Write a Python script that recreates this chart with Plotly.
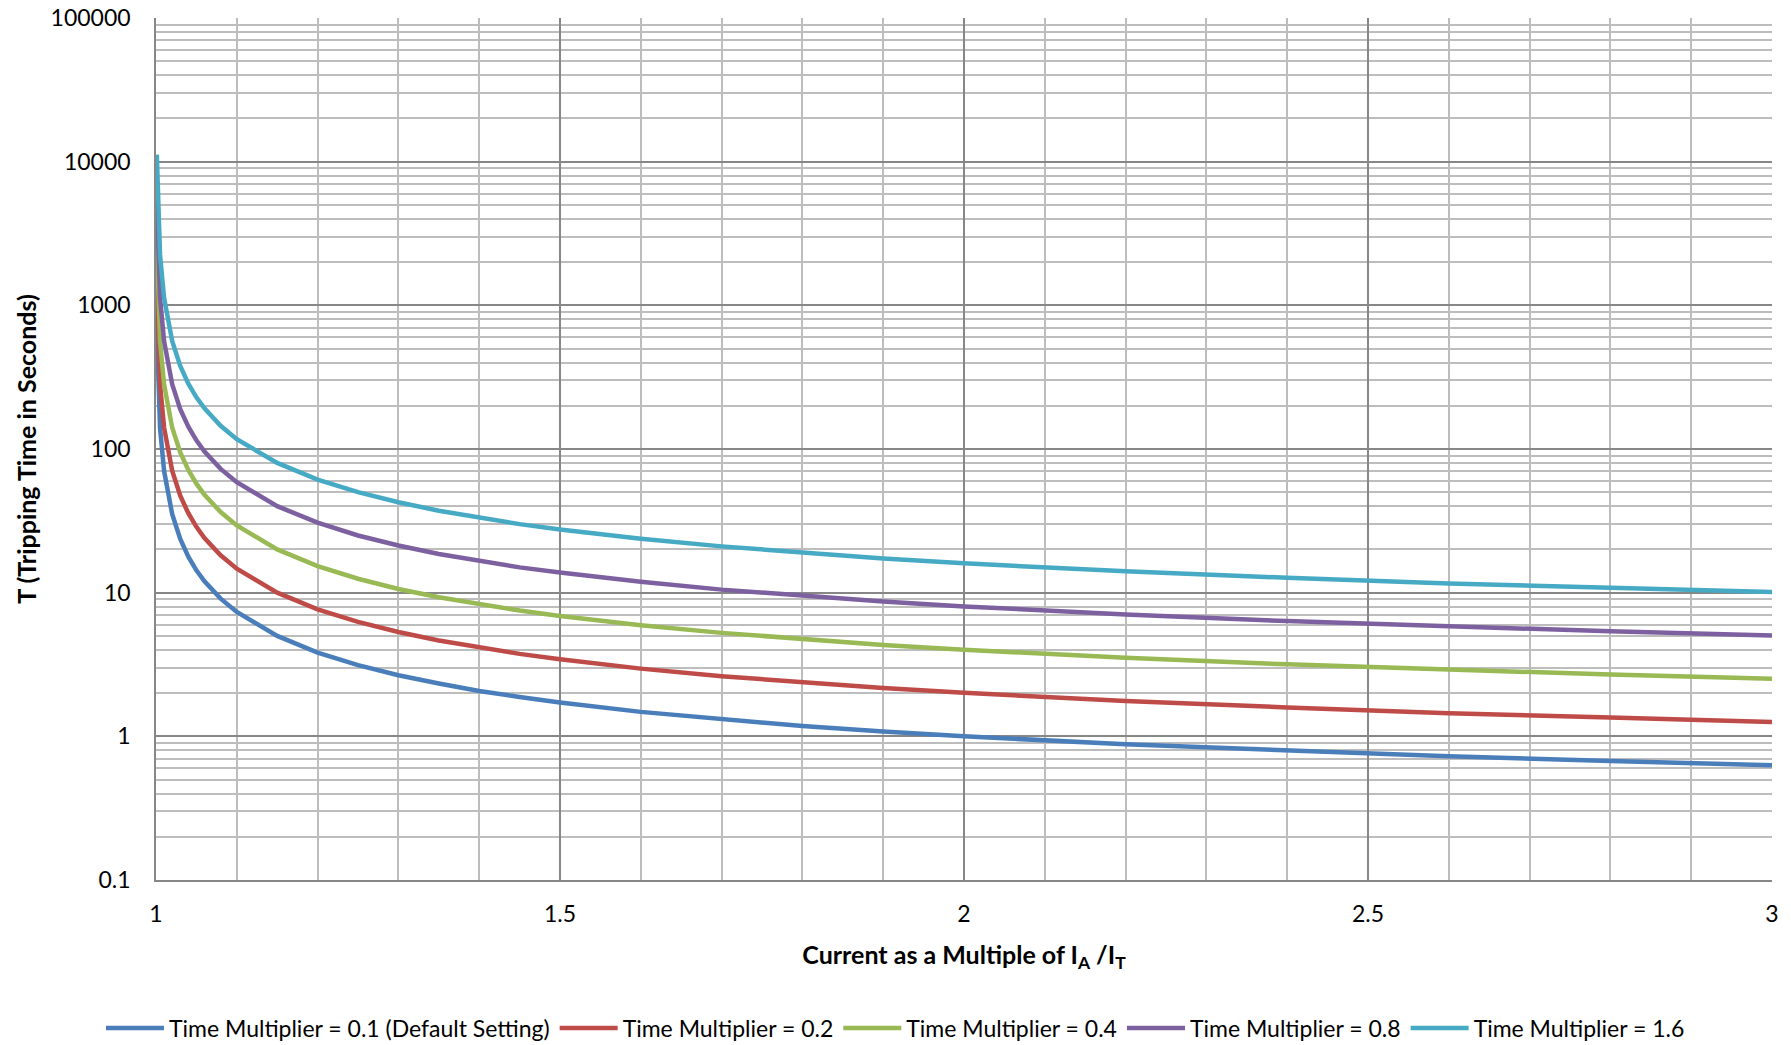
import plotly.graph_objects as go

# current multiple (I_A / I_T)
current = [1.001, 1.005, 1.01, 1.02, 1.03, 1.04, 1.05, 1.06, 1.08, 1.1, 1.15, 1.2, 1.25, 1.3,
           1.35, 1.4, 1.45, 1.5, 1.6, 1.7, 1.8, 1.9, 2.0, 2.2, 2.4, 2.6, 2.8, 3.0]

# tripping time in seconds
tm_01 = [700, 140, 70.4, 35.3, 23.7, 17.8, 14.3, 12.0, 9.09, 7.34, 5.00, 3.83, 3.13, 2.66,
         2.33, 2.07, 1.88, 1.72, 1.48, 1.31, 1.18, 1.08, 1.00, 0.881, 0.793, 0.726, 0.673, 0.630]
tm_02 = [1400, 281, 141, 70.7, 47.3, 35.7, 28.7, 24.0, 18.2, 14.7, 10.0, 7.66, 6.26, 5.32,
         4.65, 4.15, 3.75, 3.44, 2.96, 2.62, 2.37, 2.17, 2.01, 1.76, 1.59, 1.45, 1.35, 1.26]
tm_04 = [2800, 561, 281, 141, 94.7, 71.4, 57.4, 48.0, 36.4, 29.4, 20.0, 15.3, 12.5, 10.6,
         9.30, 8.29, 7.51, 6.88, 5.93, 5.25, 4.74, 4.33, 4.01, 3.52, 3.17, 2.90, 2.69, 2.52]
tm_08 = [5600, 1120, 563, 283, 189, 143, 115, 96.1, 72.7, 58.7, 40.0, 30.7, 25.0, 21.3,
         18.6, 16.6, 15.0, 13.8, 11.9, 10.5, 9.47, 8.67, 8.02, 7.05, 6.34, 5.80, 5.38, 5.04]
tm_16 = [11200, 2245, 1126, 565, 379, 285, 229, 192, 145, 117, 80.0, 61.3, 50.1, 42.6,
         37.2, 33.2, 30.0, 27.5, 23.7, 21.0, 18.9, 17.3, 16.0, 14.1, 12.7, 11.6, 10.8, 10.1]

names = ["Time Multiplier = 0.1 (Default Setting)", "Time Multiplier = 0.2",
         "Time Multiplier = 0.4", "Time Multiplier = 0.8", "Time Multiplier = 1.6"]
series = [tm_01, tm_02, tm_04, tm_08, tm_16]
colors = ["#4A7EBB", "#BE4B48", "#98B954", "#7D60A0", "#46AAC5"]

y_ticks = [0.1, 1, 10, 100, 1000, 10000, 100000]
y_labels = ["0.1", "1", "10", "100", "1000", "10000", "100000"]
x_ticks = [1, 1.5, 2, 2.5, 3]
x_labels = ["1", "1.5", "2", "2.5", "3"]

FONT = "Lato, 'Noto Sans', sans-serif"
major = "#878787"
minor = "#BDBDBD"

fig = go.Figure()
for name, ys, c in zip(names, series, colors):
    fig.add_trace(go.Scatter(x=current, y=ys, mode="lines", name=name,
                             line=dict(color=c, width=4.5)))

fig.update_layout(
    width=1791, height=1045,
    margin=dict(l=156, r=19, t=18, b=165),
    plot_bgcolor="white", paper_bgcolor="white",
    font=dict(family=FONT, size=23, color="black"),
    showlegend=True,
    legend=dict(orientation="h", x=0.5, xanchor="center", xref="container",
                y=0.0163, yanchor="middle", yref="container",
                font=dict(size=23), itemwidth=58, tracegroupgap=0),
    xaxis=dict(
        range=[1, 3], tickvals=x_ticks, ticktext=x_labels, automargin=False,
        showgrid=True, gridcolor=major, gridwidth=1.5,
        showline=True, linecolor=major, linewidth=1.5,
        ticks="", ticklabelstandoff=13, zeroline=False, ticklabeloverflow="allow",
        minor=dict(dtick=0.1, showgrid=True, gridcolor=minor, gridwidth=1.5),
        title=dict(text="<b>Current as a Multiple of I<sub>A</sub> /I<sub>T</sub></b>",
                   font=dict(size=25), standoff=20),
    ),
    yaxis=dict(
        type="log", range=[-1, 5], tickvals=y_ticks, ticktext=y_labels, automargin=False,
        showgrid=True, gridcolor=major, gridwidth=1.5,
        showline=True, linecolor=major, linewidth=1.5,
        ticks="", ticklabelstandoff=19, zeroline=False, ticklabeloverflow="allow",
        minor=dict(dtick="D1", showgrid=True, gridcolor=minor, gridwidth=1.5),
        title=dict(text="<b>T (Tripping Time in Seconds)</b>", font=dict(size=25), standoff=7),
    ),
)

# drop the default 8px page margin so the figure fills the window exactly
fig.write_html("out.html", config={"displayModeBar": False},
               post_script="document.body.style.margin='0';")
